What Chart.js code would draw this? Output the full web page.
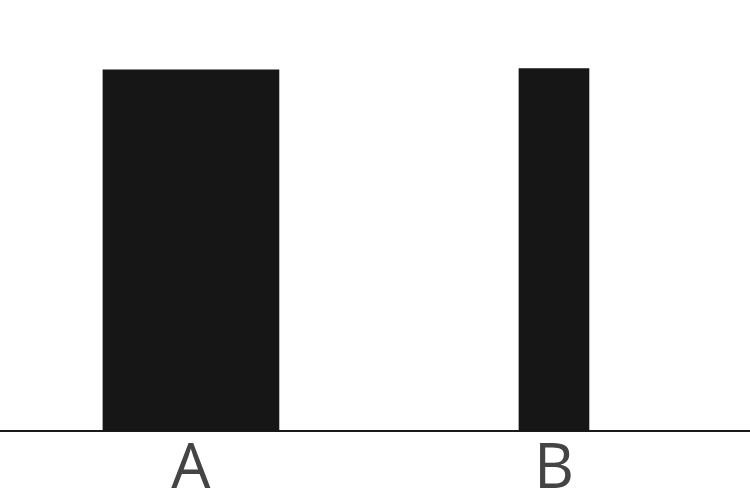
<!DOCTYPE html>
<html>
<head>
<meta charset="utf-8">
<script src="https://cdn.jsdelivr.net/npm/chart.js@4"></script>
<style>
  html, body { margin: 0; padding: 0; background: #fff; }
  #wrap { width: 750px; height: 500px; }
</style>
</head>
<body>
<div id="wrap"><canvas id="barChart"></canvas></div>
<script>
// chart data
const categories = ['A', 'B'];
const values = [100, 100.3];

// bar widths differ per category
const barWidths = [176, 70];

const ctx = document.getElementById('barChart').getContext('2d');

new Chart(ctx, {
    type: 'bar',
    data: {
        datasets: categories.map((c, i) => ({
            label: c,
            data: [{ x: i, y: values[i] }],
            backgroundColor: '#161616',
            barThickness: barWidths[i],
            grouped: false
        }))
    },
    options: {
        responsive: true,
        maintainAspectRatio: false,
        animation: false,
        layout: { padding: { top: 0, left: 0, right: 0, bottom: -9 } },
        plugins: {
            legend: { display: false },
            tooltip: { enabled: false }
        },
        scales: {
            x: {
                type: 'linear',
                offset: false,
                min: -0.526,
                max: 1.54,
                grid: { display: false, drawTicks: false },
                border: { color: '#1a1a1a', width: 2 },
                afterBuildTicks: (scale) => {
                    scale.ticks = categories.map((c, i) => ({ value: i }));
                },
                ticks: {
                    color: '#444',
                    padding: 21,
                    font: { family: 'Open Sans', size: 62, lineHeight: 0.58 },
                    callback: (v) => categories[v]
                }
            },
            y: {
                display: false,
                min: 0,
                max: 119.3
            }
        }
    }
});
</script>
</body>
</html>
